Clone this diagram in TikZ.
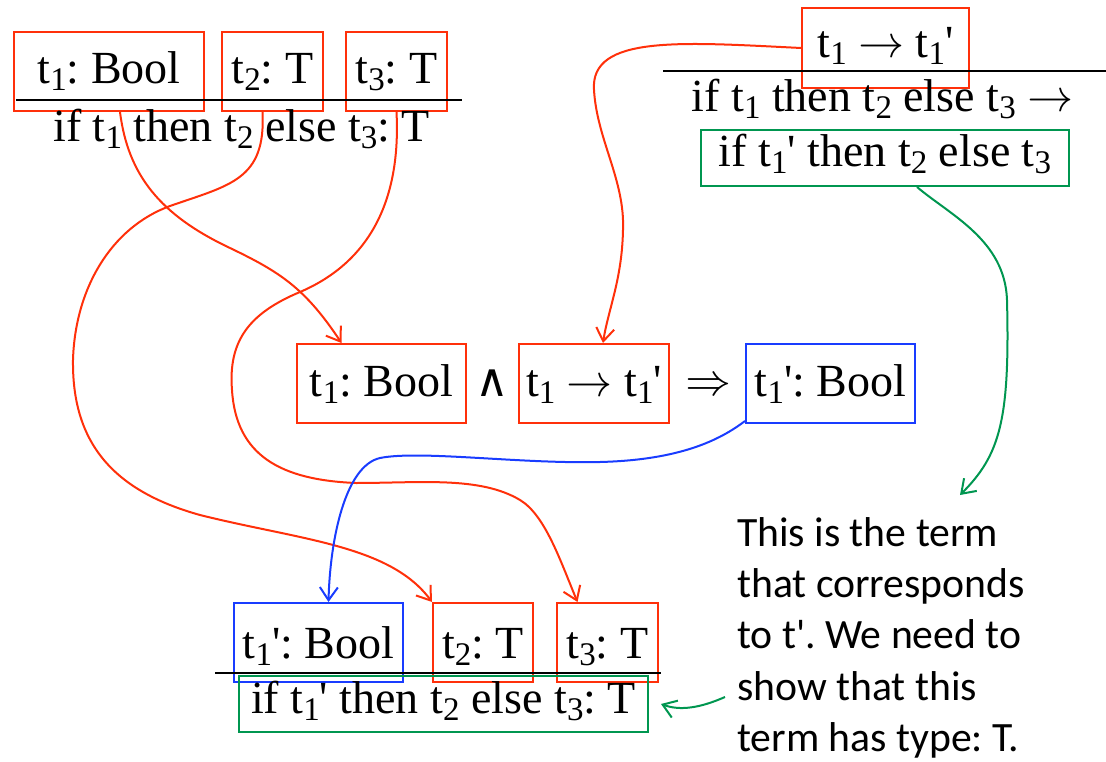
\documentclass[tikz,border=0pt]{standalone}
\usepackage{fontspec}
\usepackage{unicode-math}
\setmainfont{Liberation Serif}
\setsansfont{Carlito}
\setmathfont{Latin Modern Math}
\newfontfamily\symfam{DejaVu Sans}
\usetikzlibrary{arrows.meta}

\definecolor{hlred}{RGB}{255,48,10}
\definecolor{hlblue}{RGB}{25,60,255}
\definecolor{hlgreen}{RGB}{0,150,80}

\newcommand{\tsub}[1]{t\raisebox{-7pt}{\fontsize{33}{33}\selectfont #1}}
\newcommand{\prm}{\textquotesingle}
\newcommand{\steparr}{$\rightarrow$}
\frenchspacing

\begin{document}
\begin{tikzpicture}[x=1pt, y=-1pt,
      every node/.style={font=\fontsize{46}{52}\selectfont},
      hbox/.style={draw, line width=2pt, inner sep=0pt, minimum height=79pt, text height=31pt},
      gbox/.style={draw=hlgreen, line width=2pt, inner sep=0pt, minimum height=56pt,
                   text height=31pt, text depth=13pt},
      lbl/.style={inner sep=0pt, anchor=base},
      note/.style={inner sep=0pt, align=left, font=\sffamily\fontsize{41.7}{51.4}\selectfont},
      bar/.style={line width=2.2pt},
      flow/.style={line width=2pt, -{Straight Barb[length=13pt, width=18pt]}}]

    \useasboundingbox (0,0) rectangle (1106,762);

    % --- typing rule (top left) ---
    \node[hbox, draw=hlred, minimum width=190pt, text depth=7pt] (tl1) at (109,71.5) {\tsub1: Bool};
    \node[hbox, draw=hlred, minimum width=101pt, text depth=7pt] (tl2) at (272.5,71.5) {\tsub2: T};
    \node[hbox, draw=hlred, minimum width=101pt, text depth=7pt] (tl3) at (396.5,71.5) {\tsub3: T};
    \draw[bar] (16,100) -- (462,100);
    \node[lbl] (tlc) at (241.5,141.7) {if \tsub1 then \tsub2 else \tsub3: T};

    % --- evaluation rule (top right) ---
    \node[hbox, draw=hlred, minimum width=167pt, minimum height=80pt, text depth=11pt] (rtr) at (885.5,48) {\tsub1 \steparr{} \tsub1\prm};
    \draw[bar] (663,71) -- (1106,71);
    \node[lbl] (trc) at (882.5,112) {if \tsub1 then \tsub2 else \tsub3 \steparr};
    \node[gbox, minimum width=368pt] (tgr) at (885,158) {if \tsub1\prm{} then \tsub2 else \tsub3};

    % --- induction hypothesis (middle) ---
    \node[hbox, draw=hlred, minimum width=169pt, text depth=5pt] (mid1) at (381.5,383.5) {\tsub1: Bool};
    \node[font=\symfam\fontsize{46}{52}\selectfont, inner sep=0pt] (andop) at (492,383) {∧};
    \node[hbox, draw=hlred, minimum width=150pt, text depth=5pt] (mid2) at (594,383.5) {\tsub1 \steparr{} \tsub1\prm};
    \node (impl) at (708,384) {$\Rightarrow$};
    \node[hbox, draw=hlblue, minimum width=169pt, text depth=5pt] (midb) at (830.5,383.5) {\tsub1\prm: Bool};

    % --- new derivation (bottom) ---
    \node[hbox, draw=hlblue, minimum width=169pt, text depth=0pt] (bb) at (318.5,642.5) {\tsub1\prm: Bool};
    \node[hbox, draw=hlred, minimum width=100pt, text depth=0pt] (bt2) at (483,642.5) {\tsub2: T};
    \node[hbox, draw=hlred, minimum width=101pt, text depth=0pt] (bt3) at (607.5,642.5) {\tsub3: T};
    \draw[bar] (215,673) -- (661,673);
    \node[gbox, minimum width=409pt] (bgr) at (443.5,704) {if \tsub1\prm{} then \tsub2 else \tsub3: T};

    % --- remark ---
    \node[note, anchor=north west] (note) at (737,517) {This is the term\\that corresponds\\to t\prm. We need to\\show that this\\term has type: T.};
    \coordinate (tip) at (960,495);
    \coordinate (hint) at (725,697);

    % ======= red: premises into the lemma and the new derivation =======
    \draw[flow, hlred] ([xshift=11pt]tl1.south) .. controls (128,175) and (160,215) .. (230,248)
        .. controls (280,272) and (305,288) .. ([xshift=-40pt]mid1.north);
    \draw[flow, hlred] ([xshift=-10pt]tl2.south) .. controls (266,180) and (230,185) .. (170,206)
        .. controls (110,228) and (75,290) .. (73,360) .. controls (72,440) and (110,490) .. (200,515)
        .. controls (300,540) and (390,545) .. (bt2.north west);
    \draw[flow, hlred] (tl3.south) .. controls (401,200) and (370,262) .. (300,292)
        .. controls (250,313) and (228,340) .. (232,390) .. controls (236,455) and (280,480) .. (356,483)
        .. controls (420,483) and (480,476) .. (520,500) .. controls (545,515) and (560,560) .. ([xshift=-30pt]bt3.north);
    \draw[flow, hlred] (rtr.west) .. controls (680,42) and (590,35) .. (594,90)
        .. controls (597,140) and (625,180) .. (623,230) .. controls (622,280) and (608,310) .. ([xshift=9pt]mid2.north);

    % ======= blue: conclusion of the lemma =======
    \draw[flow, hlblue] ([yshift=3pt]midb.south west) .. controls (720,440) and (680,460) .. (600,462)
        .. controls (520,464) and (420,450) .. (380,458) .. controls (345,466) and (330,540) .. ([xshift=10pt]bb.north);

    % ======= green: the term t' =======
    \draw[flow, hlgreen] ([xshift=32pt]tgr.south) .. controls (950,215) and (1005,240) .. (1007,300)
        .. controls (1010,420) and (1000,455) .. (tip);
    \draw[flow, hlgreen] (hint) .. controls (700,708) and (680,711) .. ([xshift=12pt]bgr.east);

\end{tikzpicture}
\end{document}
